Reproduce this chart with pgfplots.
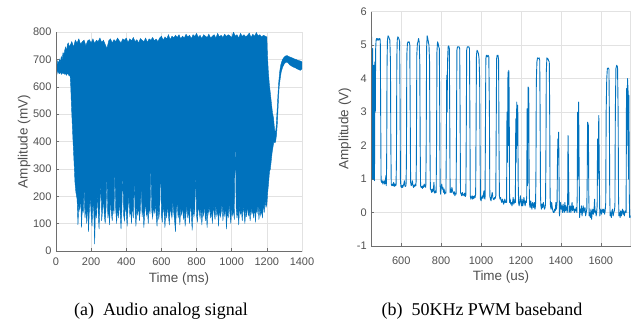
\documentclass[border=0pt]{standalone}
\usepackage{fontspec}
\setmainfont{Liberation Serif}
\newfontfamily\axf{Liberation Sans}
\usepackage{pgfplots}
\pgfplotsset{compat=1.18}
\usepgfplotslibrary{fillbetween}
\definecolor{mblue}{RGB}{0,114,189}
\definecolor{gridc}{RGB}{226,226,226}
\definecolor{axc}{RGB}{110,110,110}
\definecolor{tickc}{RGB}{80,80,80}
\pgfplotsset{mstyle/.style={
  scale only axis,
  grid=major, major grid style={draw=gridc, line width=0.5pt},
  axis line style={draw=gridc, line width=0.5pt},
  tick align=inside, tick pos=left, major tick length=3pt,
  tick style={draw=axc, line width=0.5pt},
  tick label style={font=\axf\fontsize{11}{13}\selectfont, text=tickc},
  label style={font=\axf\fontsize{13.5}{16}\selectfont, text=tickc},
  /pgf/number format/assume math mode=true,
  /pgf/number format/1000 sep={},
  yticklabel style={xshift=-1pt},
}}
\begin{document}
\begin{tikzpicture}
\begin{axis}[mstyle, name=L,
  at={(56pt,73pt)}, anchor=south west,
  width=246pt, height=219pt,
  xmin=0, xmax=1400, ymin=0, ymax=800,
  xtick={0,200,...,1400}, ytick={0,100,...,800},
  xticklabel style={yshift=-3.5pt},
  xlabel={Time (ms)}, ylabel={Amplitude (mV)},
  xlabel style={at={(axis description cs:0.5,-0.129)}, anchor=center},
  ylabel style={at={(axis description cs:-0.13,0.5)}, anchor=center},
]
\addplot[name path=U, draw=mblue, line width=0.4pt] coordinates {
(0,690)(5,675)(10,695)(15,685)(20,700)(25,690)(30,710)(35,700)(40,725)(45,715)(50,735)(55,745)(60,730)(65,755)(70,760)(75,748)(80,750)
(90,765)(100,745)(110,770)(120,760)(130,775)(140,755)(150,765)(160,770)(170,750)(180,768)
(190,772)(200,760)(210,775)(220,758)(230,770)(240,765)(250,778)(260,762)(270,770)(280,755)
(290,740)(300,768)(310,775)(320,760)(330,772)(340,765)(350,778)(360,768)(370,760)(380,775)
(390,770)(400,778)(410,762)(420,775)(430,768)(440,780)(450,765)(460,772)(470,760)(480,776)
(490,770)(500,765)(510,778)(520,762)(530,775)(540,770)(550,780)(560,768)(570,774)(580,765)
(590,778)(600,785)(610,770)(620,782)(630,775)(640,790)(650,772)(660,785)(670,778)(680,788)
(690,780)(700,790)(710,775)(720,785)(730,778)(740,792)(750,782)(760,788)(770,776)(780,790)
(790,784)(800,795)(810,780)(820,788)(830,776)(840,790)(850,785)(860,780)(870,792)(880,778)
(890,785)(900,790)(910,778)(920,795)(930,782)(940,788)(950,780)(960,792)(970,784)(980,790)
(990,786)(1000,780)(1010,800)(1020,785)(1030,790)(1040,778)(1050,795)(1060,784)(1070,790)(1080,782)
(1090,788)(1100,796)(1110,780)(1120,792)(1130,784)(1140,798)(1150,786)(1160,790)(1170,782)(1180,788)
(1190,785)(1200,782)(1203,720)(1208,660)(1214,610)(1220,575)(1226,540)(1232,505)(1238,485)(1243,450)(1248,425)(1253,455)(1258,510)(1263,570)(1268,620)(1274,660)(1280,682)(1288,698)(1296,706)(1305,712)(1315,714)(1325,710)(1335,708)(1345,705)(1355,702)(1365,700)(1375,697)(1385,695)(1395,693)(1400,690)
};
\addplot[name path=Lo, draw=mblue, line width=0.4pt] coordinates {
(0,655)(5,645)(10,660)(15,650)(20,648)(25,655)(30,645)(35,652)(40,648)(45,650)(50,645)(55,648)(60,642)(65,650)(70,645)(75,640)(80,645)(84,600)(87,545)(92,470)(97,400)(103,320)(108,250)(113,215)(117,200)
(120,190)(125,95)(130,170)(135,150)(140,210)(145,85)(150,160)(155,140)(160,230)(165,120)
(170,160)(175,100)(180,185)(185,70)(190,150)(195,200)(200,130)(205,90)(210,175)(215,145)
(220,25)(225,160)(230,120)(235,210)(240,140)(245,80)(250,170)(255,260)(260,110)(265,150)
(270,190)(275,130)(280,100)(285,160)(290,280)(295,120)(300,150)(305,95)(310,200)(315,140)
(320,110)(325,170)(330,135)(335,290)(340,150)(345,100)(350,160)(355,120)(360,180)(365,140)
(370,80)(375,150)(380,300)(385,130)(390,110)(395,170)(400,140)(405,90)(410,160)(415,200)
(420,130)(425,150)(430,100)(435,180)(440,120)(445,270)(450,140)(455,90)(460,160)(465,130)
(470,170)(475,110)(480,150)(485,240)(490,125)(495,160)(500,85)(505,140)(510,180)(515,130)
(520,150)(525,100)(530,170)(535,135)(540,310)(545,145)(550,120)(555,160)(560,140)(565,175)
(570,130)(575,90)(580,160)(585,115)(590,150)(595,340)(600,130)(605,105)(610,170)(615,140)
(620,85)(625,150)(630,120)(635,170)(640,130)(645,95)(650,160)(655,140)(660,120)(665,180)
(670,140)(675,110)(680,70)(685,150)(690,175)(695,120)(700,145)(705,95)(710,160)(715,130)
(720,170)(725,115)(730,150)(735,90)(740,135)(745,165)(750,120)(755,150)(760,100)(765,180)
(770,140)(775,75)(780,160)(785,125)(790,150)(795,290)(800,130)(805,105)(810,170)(815,145)
(820,120)(825,160)(830,95)(835,150)(840,130)(845,175)(850,110)(855,145)(860,85)(865,160)
(870,135)(875,170)(880,120)(885,150)(890,100)(895,165)(900,140)(905,115)(910,170)(915,130)
(920,150)(925,90)(930,160)(935,125)(940,140)(945,175)(950,110)(955,155)(960,130)(965,165)
(970,80)(975,150)(980,120)(985,170)(990,135)(995,100)(1000,160)(1005,130)(1010,150)(1015,115)
(1020,450)(1025,160)(1030,120)(1035,150)(1040,95)(1045,170)(1050,135)(1055,150)(1060,110)(1065,165)
(1070,140)(1075,100)(1080,155)(1085,125)(1090,170)(1095,130)(1100,145)(1105,110)(1110,160)(1115,135)
(1120,150)(1125,120)(1130,165)(1135,105)(1140,155)(1145,140)(1150,170)(1155,115)(1160,160)(1165,130)
(1170,150)(1175,120)(1180,175)(1185,140)(1190,185)(1195,160)
(1200,170)(1205,215)(1210,250)(1215,290)(1220,300)(1225,330)(1230,360)(1235,380)(1240,400)(1246,395)(1250,400)(1255,425)(1260,470)(1265,540)(1270,600)(1276,630)(1282,655)(1290,672)(1300,685)(1310,690)(1320,688)(1330,680)(1340,676)(1350,672)(1360,670)(1370,666)(1380,663)(1390,660)(1400,665)
};
\addplot[fill=mblue, draw=none] fill between[of=U and Lo];
\end{axis}
\draw[axc, line width=0.6pt] (L.north west) -- (L.south west) -- (L.south east);

\begin{axis}[mstyle, name=R,
  at={(371.3pt,78pt)}, anchor=south west,
  width=259.4pt, height=234.3pt,
  xmin=450, xmax=1750, ymin=-1, ymax=6,
  xtick={600,800,...,1600}, ytick={-1,0,...,6},
  xticklabel style={yshift=-7pt},
  xlabel={Time (us)}, ylabel={Amplitude (V)},
  xlabel style={at={(axis description cs:0.5,-0.131)}, anchor=center},
  ylabel style={at={(axis description cs:-0.1014,0.5)}, anchor=center},
]
\addplot[mblue, line width=0.9pt, line join=round] coordinates {
(450,5.2)(452,5.25)(454,3.5)(455,1.0)(457,4.9)(458,2.0)(460,1.0)(462,3.8)(463,4.4)(465,1.0)(466,0.95)(468,4.5)(470,3.0)(472,4.9)(474,5.15)(477,5.2)(480,5.15)(483,5.2)(487,5.15)(492,5.2)(495,5.15)(497,3.0)(499,0.95)
(502,0.9)(505,0.95)(508,0.85)(511,0.9)(514,0.95)(517,0.85)(520,0.9)(523,1.1)(525,0.8)(527,1.5)(529,4.5)(531,5.15)(534,5.28)(537,5.25)(540,5.2)(543,5.15)(546,4.5)(548,2.0)
(550,0.85)(553,0.8)(556,0.85)(559,0.8)(562,0.9)(565,0.78)(568,0.85)(571,0.8)(574,0.82)(576,1.5)(578,4.6)(580,5.15)(583,5.25)(586,5.22)(589,5.18)(592,5.1)(594,3.5)(596,1.0)
(598,0.78)(601,0.75)(604,0.82)(607,0.75)(610,0.8)(613,0.85)(616,0.95)(618,0.8)(621,0.78)(624,0.8)(626,1.5)(628,4.7)(631,5.05)(634,5.1)(637,5.08)(640,5.1)(643,5.0)(645,3.0)
(647,0.9)(650,0.8)(653,0.85)(656,0.95)(659,0.8)(662,0.75)(665,0.82)(668,0.78)(671,0.85)(674,0.8)(676,1.6)(678,4.7)(681,5.05)(684,5.1)(687,5.2)(690,5.1)(693,4.5)(695,2.0)
(697,0.8)(700,0.75)(703,0.78)(706,0.72)(709,0.8)(712,0.75)(715,0.85)(718,0.78)(721,0.82)(723,0.75)(725,1.8)(727,4.9)(730,5.28)(733,5.2)(736,5.1)(739,5.0)(742,4.5)(744,2.0)
(746,0.7)(749,0.68)(752,0.6)(755,0.7)(758,0.62)(761,0.68)(764,0.9)(766,0.6)(769,0.58)(772,0.65)(775,0.6)(777,2.0)(779,4.8)(782,5.1)(785,5.05)(788,4.95)(791,4.9)(793,3.0)
(795,0.8)(797,0.55)(800,0.75)(803,0.85)(806,0.7)(809,0.75)(812,0.6)(815,0.7)(818,0.55)(821,0.6)(824,0.58)(826,2.0)(828,4.1)(830,3.0)(832,4.5)(835,4.95)(838,4.98)(841,4.9)(843,3.0)
(845,0.6)(848,0.7)(851,0.6)(854,0.75)(857,0.65)(860,0.6)(863,0.55)(866,0.62)(869,0.5)(872,0.58)(875,0.55)(877,2.5)(879,4.85)(882,4.95)(886,4.95)(890,4.95)(893,4.9)(895,3.0)
(897,0.6)(900,0.55)(903,0.5)(906,0.6)(909,0.52)(912,0.55)(915,0.5)(918,0.58)(921,0.48)(924,0.52)(926,2.5)(928,4.85)(931,4.95)(935,4.95)(939,4.95)(942,4.9)(944,3.0)
(946,0.5)(949,0.4)(952,0.45)(955,0.5)(958,0.4)(961,0.48)(964,0.42)(967,0.5)(970,0.45)(973,0.55)(975,2.5)(977,4.7)(980,4.85)(984,4.8)(987,4.75)(990,4.6)(993,4.0)(995,2.0)
(997,0.4)(1000,0.35)(1003,0.45)(1006,0.5)(1009,0.42)(1012,0.55)(1015,0.65)(1017,0.45)(1020,0.4)(1022,2.5)(1024,4.6)(1027,4.7)(1031,4.65)(1035,4.7)(1039,4.65)(1042,3.0)
(1044,0.5)(1047,0.4)(1050,0.35)(1053,0.5)(1056,0.6)(1059,0.45)(1062,0.4)(1065,0.38)(1068,0.45)(1071,0.42)(1074,0.5)(1076,2.5)(1078,4.6)(1081,4.7)(1085,4.7)(1088,4.55)(1090,2.0)
(1092,0.5)(1095,0.4)(1098,0.45)(1101,0.35)(1104,0.3)(1107,0.4)(1110,0.35)(1113,0.25)(1116,0.3)(1119,0.4)(1122,0.3)(1125,0.35)(1128,0.3)
(1130,3.0)(1132,1.5)(1135,4.2)(1137,2.0)(1139,4.25)(1141,3.5)(1143,0.3)
(1146,0.4)(1149,0.25)(1152,0.3)(1155,0.2)(1158,0.3)(1161,0.45)(1164,0.25)(1167,0.3)(1170,0.4)(1172,0.3)
(1174,2.8)(1176,1.5)(1179,3.3)(1182,2.0)(1184,3.2)(1186,1.0)(1188,0.3)
(1191,0.2)(1194,0.35)(1197,0.5)(1200,0.3)(1203,0.2)(1206,0.4)(1209,0.2)(1212,0.3)(1215,0.45)(1218,0.3)(1221,0.2)(1224,0.35)(1227,0.3)(1229,0.5)
(1231,3.1)(1233,0.8)(1236,3.75)(1239,3.7)(1241,1.0)(1243,0.25)
(1246,0.15)(1249,0.35)(1252,0.2)(1255,0.1)(1258,0.3)(1261,0.25)(1264,0.15)(1267,0.3)(1270,0.1)(1273,0.2)
(1275,1.0)(1277,3.9)(1280,4.5)(1283,4.62)(1287,4.6)(1291,4.62)(1294,4.55)(1296,3.0)(1298,0.5)
(1300,0.2)(1303,0.1)(1306,0.25)(1309,0.15)(1312,0.3)(1315,0.2)(1318,0.1)(1321,0.15)(1323,0.25)
(1325,1.5)(1327,4.2)(1330,4.62)(1334,4.6)(1338,4.55)(1342,4.5)(1344,3.0)(1346,0.5)
(1348,0.2)(1351,0.1)(1354,0.3)(1357,0.15)(1360,0.05)(1363,0.0)(1366,0.0)(1369,0.1)(1372,0.05)(1375,0.3)(1378,0.1)(1381,0.3)
(1383,1.5)(1385,2.2)(1387,1.8)(1389,2.4)(1391,1.0)(1393,-0.1)
(1396,0.1)(1399,0.3)(1402,0.1)(1405,0.2)(1408,0.0)(1411,0.25)(1414,0.1)(1417,0.0)(1420,0.3)(1423,0.05)(1426,0.2)(1429,0.1)(1432,0.0)(1434,0.3)
(1436,2.3)(1439,1.0)(1441,0.0)
(1444,0.05)(1447,0.2)(1450,0.0)(1453,0.1)(1456,0.3)(1459,0.05)(1462,0.2)(1465,0.1)(1468,0.0)(1471,0.1)(1474,0.05)(1477,0.15)(1480,0.0)(1482,0.5)
(1484,3.0)(1486,1.0)(1489,3.3)(1492,1.0)(1494,-0.15)
(1497,0.1)(1500,0.0)(1503,0.2)(1506,-0.1)(1509,0.05)(1512,0.2)(1515,0.0)(1518,0.1)(1521,0.15)(1524,-0.1)(1527,0.0)(1530,0.1)
(1532,1.0)(1534,2.7)(1538,2.6)(1540,0.5)(1542,-0.1)
(1545,0.0)(1548,-0.15)(1551,0.1)(1554,-0.2)(1557,0.0)(1560,0.1)(1563,-0.05)(1566,0.05)(1569,0.4)(1571,0.0)(1574,0.05)(1577,-0.1)(1580,0.05)(1582,0.2)
(1584,2.2)(1586,1.0)(1590,2.9)(1593,1.0)(1595,-0.1)
(1598,0.0)(1601,0.1)(1604,-0.05)(1607,0.05)(1610,0.1)(1613,0.0)(1616,0.1)(1619,-0.05)(1622,0.05)(1625,0.3)
(1627,3.0)(1630,4.0)(1633,4.3)(1637,4.32)(1641,4.28)(1643,3.0)(1645,0.5)(1647,-0.1)
(1650,0.0)(1653,-0.15)(1656,0.05)(1659,0.1)(1662,-0.1)(1665,0.0)(1668,0.05)(1671,0.2)
(1673,3.0)(1676,4.3)(1680,4.4)(1684,4.35)(1687,3.0)(1689,0.5)(1691,-0.1)
(1694,0.0)(1697,-0.15)(1700,0.05)(1703,-0.1)(1706,0.0)(1709,0.1)(1712,-0.05)(1715,0.05)(1718,-0.1)(1721,0.0)(1724,0.05)(1727,0.0)
(1729,3.7)(1731,2.0)(1734,4.0)(1737,3.6)(1739,1.0)(1741,3.5)(1743,0.5)(1745,-0.15)(1748,-0.1)(1750,-0.15)
};
\end{axis}
\draw[axc, line width=0.6pt] (R.north west) -- (R.south west) -- (R.south east);

\node[anchor=base, font=\fontsize{18}{21}\selectfont] at (161pt,8pt) {(a)~~Audio analog signal};
\node[anchor=base, font=\fontsize{18}{21}\selectfont] at (482pt,8pt) {(b)~~50KHz PWM baseband};
\path (0,0) rectangle (633pt,324pt);
\end{tikzpicture}
\end{document}
